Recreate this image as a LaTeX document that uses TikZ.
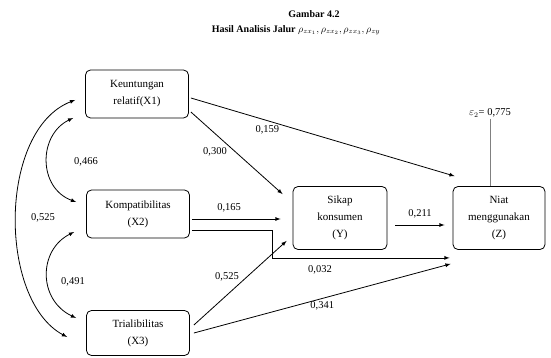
\documentclass[tikz,border=0pt]{standalone}
\usepackage{fontspec}
\setmainfont{Liberation Serif}
\usetikzlibrary{positioning,calc}
\tikzset{
  var/.style={draw,rounded corners=5pt,align=center,minimum width=103pt,
    minimum height=48pt,inner sep=2pt,font=\fontsize{11}{17}\selectfont},
  coef/.style={font=\fontsize{10.5}{12}\selectfont,inner sep=1pt},
}

\begin{document}
\begin{tikzpicture}[x=1pt,y=-1pt,->,>=latex,line width=0.8pt]
  \useasboundingbox (0,0) rectangle (551,358);
  % title
  \node (ttl) at (314,14) {\bfseries\fontsize{10}{12}\selectfont Gambar 4.2};
  \node (sub) at (296,30) {\bfseries\fontsize{10}{12}\selectfont Hasil Analisis Jalur $\rho_{zx_1},\rho_{zx_2},\rho_{zx_3},\rho_{zy}$};
  % variables
  \node[var] (x1) at (137,94) {Keuntungan\\relatif(X1)};
  \node[var] (x2) at (138,214) {Kompatibilitas\\(X2)};
  \node[var,minimum height=45pt] (x3) at (138,333) {Trialibilitas\\(X3)};
  \node[var,minimum width=94pt,minimum height=63pt] (y) at (340,218) {Sikap\\konsumen\\(Y)};
  \node[var,minimum width=92pt,minimum height=63pt] (z) at (499,218) {Niat\\menggunakan\\(Z)};
  \node[coef] (e2) at (490,113) {$\varepsilon_2$= 0,775};
  % paths
  \draw ($(x1.east)+(2,4)$) -- ($(z.north west)+(2,-10)$) node[coef,pos=.29,below=3pt] (c159) {0,159};
  \draw ($(x1.east)+(2,18)$) -- ($(y.north west)+(-10,8)$);
  \node[coef] (c300) at (215,152) {0,300};
  \draw ($(x2.east)+(2,5)$) -- ($(y.west)+(-12,1)$) node[coef,pos=.42,above=5pt] (c165) {0,165};
  \draw ($(x2.east)+(2,16)$) -| ($(y.south west)+(-20,8)$) -- ($(z.south west)+(-3,8)$);
  \node[coef] (c032) at (320,270) {0,032};
  \draw ($(x3.east)+(4,-8)$) -- ($(y.south west)+(-6,-9)$) node[coef,pos=.5,above left] (c525b) {0,525};
  \draw ($(x3.east)+(4,0)$) -- ($(z.south west)+(-2,14)$) node[coef,pos=.5,below=2pt] (c341) {0,341};
  \draw ($(y.east)+(8,7)$) -- ($(z.west)+(-8,7)$) node[coef,midway,above=5pt] (c211) {0,211};
  \draw[-,gray,line width=0.4pt] (e2) -- (e2 |- z.north);
  % correlations
  \draw[<->] ($(x1.west)+(-12,24)$) .. controls (38,135) and (38,188) .. ($(x2.west)+(-10,-12)$);
  \node[coef] (c466) at (86,162) {0,466};
  \draw[<->] ($(x2.west)+(-12,18)$) .. controls (38,250) and (38,300) .. ($(x3.west)+(-10,-15)$);
  \node[coef] (c491) at (73,282) {0,491};
  \draw[<->] ($(x1.west)+(-10,6)$) .. controls (-2,130) and (-2,300) .. ($(x3.west)+(-19,4)$);
  \node[coef] (c525a) at (43,218) {0,525};
\end{tikzpicture}
\end{document}
